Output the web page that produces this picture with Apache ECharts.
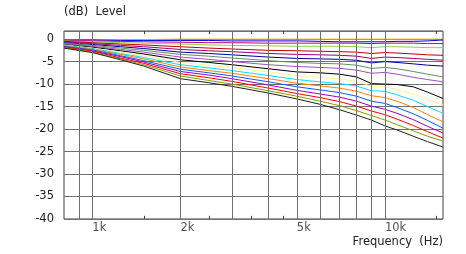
<!DOCTYPE html>
<html>
<head>
<meta charset="utf-8">
<script src="https://cdn.jsdelivr.net/npm/echarts@6/dist/echarts.min.js"></script>
<style>
html,body{margin:0;padding:0;background:#fff;}
#chart{width:466px;height:254px;}
</style>
</head>
<body>
<div id="chart"></div>
<script>
// Frequencies (Hz) at which the curves are sampled
const freqs = [800, 1000, 1250, 1500, 2000, 2500, 3000, 4000, 5000, 6000, 7000, 8000, 9000, 10000, 11000, 12500, 14000, 15800];

// Level curves (dB), top to bottom
const c0  = [-0.1,-0.1,-0.1,-0.1,0,0,0,0,0,0,0,0,0,0,0,0,0,0];
const c1  = [-0.2,-0.2,-0.3,-0.3,-0.3,-0.3,-0.4,-0.4,-0.4,-0.5,-0.6,-0.6,-0.6,-0.6,-0.5,-0.5,-0.4,-0.2];
const c2  = [-0.3,-0.4,-0.5,-0.6,-0.7,-0.8,-0.8,-0.9,-0.9,-0.9,-0.9,-0.9,-1.0,-0.9,-0.9,-0.9,-1.0,-1.0];
const c3  = [-0.4,-0.6,-0.8,-0.9,-1.1,-1.3,-1.4,-1.5,-1.6,-1.6,-1.6,-1.7,-1.9,-1.7,-1.7,-1.8,-1.9,-1.9];
const c4  = [-0.5,-0.8,-1.1,-1.3,-1.7,-2.0,-2.2,-2.5,-2.6,-2.7,-2.8,-2.9,-3.2,-3.0,-3.1,-3.3,-3.5,-3.6];
const c5  = [-0.6,-1.0,-1.4,-1.7,-2.3,-2.6,-2.8,-3.2,-3.4,-3.5,-3.6,-3.8,-4.3,-4.0,-4.1,-4.3,-4.5,-4.7];
const c6  = [-0.8,-1.2,-1.7,-2.1,-2.9,-3.2,-3.5,-4.0,-4.3,-4.4,-4.5,-4.7,-5.3,-5.0,-5.2,-5.5,-5.8,-6.0];
const c7  = [-0.9,-1.4,-2.0,-2.5,-3.4,-3.8,-4.2,-4.8,-5.2,-5.4,-5.5,-5.8,-6.5,-6.3,-6.6,-7.2,-7.8,-8.4];
const c8  = [-1.0,-1.6,-2.3,-2.9,-4.0,-4.5,-5.0,-5.7,-6.1,-6.3,-6.5,-6.9,-7.6,-7.4,-7.8,-8.5,-9.0,-9.5];
const c9  = [-1.2,-1.8,-2.6,-3.3,-4.6,-5.2,-5.7,-6.6,-7.3,-7.5,-7.8,-8.4,-9.9,-10.0,-10.1,-10.6,-11.8,-13.2];
const c10 = [-1.3,-2.0,-2.9,-3.7,-5.2,-5.8,-6.3,-7.3,-8.1,-8.5,-8.9,-9.4,-10.5,-10.6,-11.2,-12.2,-13.4,-14.7];
const c11 = [-1.4,-2.1,-3.2,-4.1,-5.7,-6.4,-7.0,-8.1,-9.0,-9.5,-9.9,-10.4,-11.5,-11.6,-12.4,-13.6,-15.0,-16.5];
const c12 = [-1.5,-2.3,-3.4,-4.4,-6.2,-7.0,-7.6,-8.8,-9.8,-10.4,-10.9,-11.6,-12.6,-13.0,-13.8,-15.2,-16.8,-18.4];
const c13 = [-1.6,-2.4,-3.7,-4.8,-6.7,-7.5,-8.2,-9.5,-10.6,-11.3,-11.9,-12.7,-13.8,-14.3,-15.2,-16.6,-18.1,-19.8];
const c14 = [-1.7,-2.6,-3.9,-5.1,-7.2,-8.0,-8.8,-10.2,-11.4,-12.2,-12.9,-13.8,-14.9,-15.6,-16.5,-17.9,-19.4,-20.9];
const c15 = [-1.8,-2.7,-4.2,-5.4,-7.7,-8.6,-9.4,-10.9,-12.1,-13.0,-13.9,-14.9,-16.0,-16.8,-17.8,-19.2,-20.6,-22.0];
const c16 = [-1.9,-2.9,-4.4,-5.7,-8.2,-9.2,-10.0,-11.5,-12.7,-13.8,-14.8,-15.9,-17.0,-18.0,-19.0,-20.4,-21.6,-22.7];
const c17 = [-2.0,-3.0,-4.6,-6.0,-8.8,-9.7,-10.5,-12.0,-13.3,-14.5,-15.7,-16.9,-18.0,-19.3,-20.2,-21.6,-22.8,-24.0];

const curves = [c0,c1,c2,c3,c4,c5,c6,c7,c8,c9,c10,c11,c12,c13,c14,c15,c16,c17];
const curveColors = ['#FFB000','#0000FF','#C00080','#90D040','#C00000','#A00070','#0000A0','#609060','#A050C0','#000000',
                     '#FFF0A0','#00E0FF','#FF8000','#0060FF','#A000C0','#FF0000','#80A000','#202020'];

// Axis ticks
const gridFreqs = [900, 1000, 2000, 3000, 4000, 5000, 6000, 7000, 8000, 9000, 10000];
const minorFreqs = [1500, 2500, 3500, 4500, 15000];
const xLabelFreqs = [1000, 2000, 5000, 10000];
const xLabelText = ['1k', '2k', '5k', '10k'];
const yMin = -40, yMax = 1.8, yStep = 5;

const FONT = 'DejaVu Sans';
const FS = 11.5;
const chart = echarts.init(document.getElementById('chart'), null, {renderer: 'canvas'});

const series = curves.map((c, i) => ({
  type: 'line',
  data: freqs.map((f, j) => [f, c[j]]),
  showSymbol: false,
  symbol: 'none',
  lineStyle: {color: curveColors[i], width: 1},
  silent: true,
  z: 3
}));

const tickLen = 0.7;
series.push({
  type: 'line',
  data: [],
  silent: true,
  z: 2,
  markLine: {
    silent: true,
    symbol: 'none',
    animation: false,
    label: {show: false},
    lineStyle: {color: '#707070', width: 1, type: 'solid'},
    data: gridFreqs.map(f => ({xAxis: f}))
      .concat(minorFreqs.map(f => [{coord: [f, yMin], lineStyle:{color:'#404040'}}, {coord: [f, yMin + tickLen]}]))
      .concat(minorFreqs.map(f => [{coord: [f, yMax], lineStyle:{color:'#404040'}}, {coord: [f, yMax - tickLen]}]))
  }
});

series.push({
  type: 'scatter',
  data: xLabelFreqs.map(f => [f, yMin]),
  symbolSize: 0,
  silent: true,
  clip: false,
  label: {
    show: true,
    position: 'bottom',
    distance: 3,
    align: 'left',
    color: '#222',
    fontSize: FS,
    fontFamily: FONT,
    formatter: p => xLabelText[p.dataIndex]
  }
});

chart.setOption({
  animation: false,
  backgroundColor: '#fff',
  grid: {left: 64, right: 23, top: 31, bottom: 35, show: true, borderColor: '#404040', borderWidth: 1, backgroundColor: 'transparent'},
  xAxis: {
    type: 'log', logBase: 10, min: 800, max: 15800,
    axisLine: {show: false}, axisTick: {show: false}, axisLabel: {show: false}, splitLine: {show: false}
  },
  yAxis: {
    type: 'value', min: yMin, max: yMax, interval: yStep,
    axisLine: {show: false}, axisTick: {show: false},
    axisLabel: {color: '#222', fontSize: FS, fontFamily: FONT, margin: 10, showMaxLabel: false},
    splitLine: {lineStyle: {color: '#707070', width: 1}}
  },
  graphic: [
    {type: 'text', left: 64, top: 6, style: {text: '(dB)  Level', font: FS + 'px "DejaVu Sans"', fill: '#222'}},
    {type: 'text', right: 23, top: 236, style: {text: 'Frequency  (Hz)', font: FS + 'px "DejaVu Sans"', fill: '#222'}}
  ],
  series: series
});
</script>
</body>
</html>
